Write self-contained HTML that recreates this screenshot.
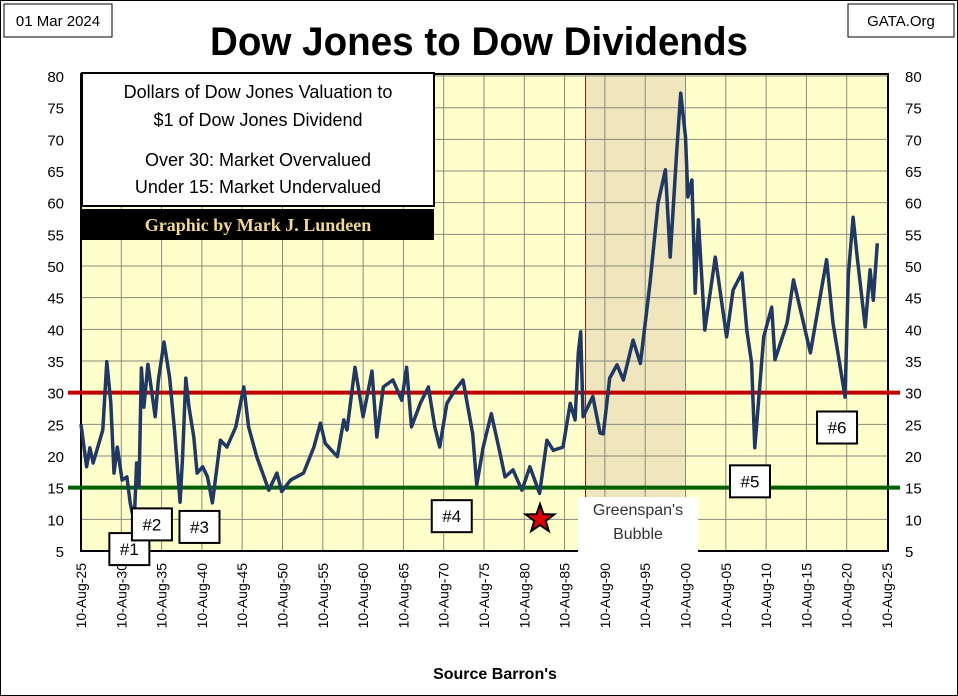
<!DOCTYPE html>
<html><head><meta charset="utf-8">
<style>
body{margin:0;background:#fff;}
svg{display:block;font-family:"Liberation Sans",sans-serif;}
</style></head>
<body>
<svg id="chart" width="958" height="696" viewBox="0 0 958 696">
<rect x="0.5" y="0.5" width="957" height="695" fill="#fff" stroke="#000"/>
<g id="plot"></g>
<text x="479" y="55" text-anchor="middle" font-size="40" font-weight="bold" textLength="538" lengthAdjust="spacingAndGlyphs">Dow Jones to Dow Dividends</text>
<g><rect x="4" y="4" width="108" height="33" fill="#fff" stroke="#000"/><text x="58" y="26" text-anchor="middle" font-size="15">01 Mar 2024</text></g>
<g><rect x="848" y="4" width="106" height="33" fill="#fff" stroke="#000"/><text x="901" y="26" text-anchor="middle" font-size="15">GATA.Org</text></g>
<text x="495" y="679" text-anchor="middle" font-size="16" font-weight="bold">Source Barron's</text>
</svg>
<script>
const years=[1925.6,1926.3,1926.7,1927.1,1928.3,1928.8,1929.3,1929.7,1930.1,1930.7,1931.3,1931.7,1932.2,1932.5,1932.8,1933.1,1933.4,1933.9,1934.8,1935.2,1935.9,1936.6,1937.2,1937.9,1938.2,1938.6,1939.0,1939.6,1940.0,1940.7,1941.3,1941.9,1942.9,1943.7,1944.8,1945.8,1946.4,1947.4,1948.9,1949.9,1950.5,1951.6,1953.2,1954.5,1955.3,1955.9,1957.4,1958.2,1958.6,1959.6,1960.6,1961.7,1962.3,1963.1,1964.3,1965.4,1966.0,1966.6,1967.7,1968.7,1969.5,1970.1,1971.0,1972.0,1973.0,1973.6,1974.2,1974.7,1975.5,1976.5,1977.6,1978.2,1979.2,1980.3,1981.3,1982.5,1983.4,1984.2,1985.4,1986.3,1986.9,1987.3,1987.6,1987.9,1989.1,1990.0,1990.4,1991.2,1992.1,1992.9,1994.1,1995.0,1996.2,1997.2,1998.1,1998.7,1999.5,2000.0,2000.6,2000.9,2001.4,2001.8,2002.2,2003.0,2004.3,2005.7,2006.5,2007.6,2008.2,2008.8,2009.2,2010.3,2011.3,2011.7,2013.2,2014.0,2016.1,2018.1,2018.9,2020.4,2020.8,2021.4,2021.9,2022.9,2023.5,2023.9,2024.4];
const ratios=[25,18.3,21.3,18.9,24.1,34.9,28.4,17.3,21.4,16.2,16.7,12.6,9.6,18.9,15.1,33.9,27.7,34.5,26.2,32,38,32.3,24.1,12.7,19.9,32.3,27.7,23,17.3,18.3,16.7,12.6,22.5,21.4,24.6,30.9,24.6,19.9,14.6,17.3,14.4,16.2,17.3,21.4,25.2,22,19.9,25.7,24.1,34,26.2,33.4,23,30.9,32,28.8,34,24.6,28.3,30.9,24.6,21.4,28.3,30.4,32,27.7,23.5,15.4,21.4,26.7,20.4,16.7,17.8,14.6,18.3,14.1,22.5,20.9,21.4,28.3,25.7,36.3,39.6,26.2,29.4,23.6,23.5,32.3,34.4,32,38.3,34.6,47.3,60,65.2,51.4,67.8,77.3,70.4,60.9,63.6,45.7,57.3,39.9,51.4,38.8,46.2,48.9,39.9,34.7,21.3,38.8,43.5,35.2,41,47.8,36.3,51,41,29.3,48.5,57.7,51.4,40.4,49.4,44.6,53.6];
const yTicks=[5,10,15,20,25,30,35,40,45,50,55,60,65,70,75,80];
const xTickYears=[1925,1930,1935,1940,1945,1950,1955,1960,1965,1970,1975,1980,1985,1990,1995,2000,2005,2010,2015,2020,2025];
const overvalued=30, undervalued=15;
const bubbleStart=1988.2, bubbleEnd=2000.6;
const notes=[{t:"#1",yr:1931.6,v:5.3},{t:"#2",yr:1934.4,v:9.2},{t:"#3",yr:1940.3,v:8.8},{t:"#4",yr:1971.6,v:10.5},{t:"#5",yr:2008.6,v:16},{t:"#6",yr:2019.4,v:24.5}];

const X=y=>81+(y-1925.6)*8.06;
const Y=v=>551-(v-5)*6.333;
const NS="http://www.w3.org/2000/svg";
const g=document.getElementById('plot');
function mk(tag,at,parent){const e=document.createElementNS(NS,tag);for(const k in at)e.setAttribute(k,at[k]);(parent||g).appendChild(e);return e;}

let e=mk('rect',{x:81,y:74,width:807,height:477,fill:'#FFFFCC'});


e=mk('rect',{x:X(bubbleStart),y:74,width:X(bubbleEnd)-X(bubbleStart),height:477,fill:'#EFE6BE',stroke:'#7a1a1a','stroke-width':1});


yTicks.forEach(v=>{
  let l=mk('line',{x1:81,x2:888,y1:Y(v),y2:Y(v),stroke:'#8a8a7a','stroke-width':1});
  
  
  let t=mk('text',{x:64,y:Y(v)+6,'text-anchor':'end','font-size':15});t.textContent=v;
  
  
  let t2=mk('text',{x:905,y:Y(v)+6,'font-size':15});t2.textContent=v;
  
  
});
xTickYears.forEach(yr=>{
  const x=X(yr+0.6);
  if(yr>1925&&yr<2025){let l=mk('line',{x1:x,x2:x,y1:74,y2:551,stroke:'#8a8a7a','stroke-width':1});
  
  }
  let t=mk('text',{x:0,y:0,'text-anchor':'end','font-size':14,transform:`translate(${x+5},563) rotate(-90)`});
  t.textContent='10-Aug-'+String(yr%100).padStart(2,'0');
  
  
});
e=mk('rect',{x:81,y:74,width:807,height:477,fill:'none',stroke:'#000','stroke-width':2});


e=mk('line',{x1:68,x2:900,y1:Y(overvalued),y2:Y(overvalued),stroke:'#C00000','stroke-width':4});


e=mk('line',{x1:68,x2:900,y1:Y(undervalued),y2:Y(undervalued),stroke:'#006000','stroke-width':4});


let d=years.map((yr,i)=>(i?'L':'M')+X(yr).toFixed(1)+' '+Y(ratios[i]).toFixed(1)).join(' ');
e=mk('path',{d:d,fill:'none',stroke:'#1F3864','stroke-width':3.5,'stroke-linejoin':'round'});



let gb=mk('g',{});


mk('rect',{x:578,y:497,width:120,height:57,fill:'#fff'},gb);
let t=mk('text',{x:638,y:515,'text-anchor':'middle','font-size':16,fill:'#333'},gb);t.textContent="Greenspan's";
t=mk('text',{x:638,y:539,'text-anchor':'middle','font-size':16,fill:'#333'},gb);t.textContent="Bubble";

notes.forEach(n=>{
  let ng=mk('g',{});
  
  
  const cx=X(n.yr),cy=Y(n.v);
  mk('rect',{x:cx-20,y:cy-16,width:40,height:32,fill:'#fff',stroke:'#000','stroke-width':2},ng);
  let tt=mk('text',{x:cx,y:cy+6,'text-anchor':'middle','font-size':17},ng);tt.textContent=n.t;
});
const sx=540,sy=519,pts=[];
for(let i=0;i<10;i++){const r=i%2?6:15,a=-Math.PI/2+i*Math.PI/5;pts.push((sx+r*Math.cos(a)).toFixed(1)+','+(sy+r*Math.sin(a)).toFixed(1));}
e=mk('polygon',{points:pts.join(' '),fill:'#E00000',stroke:'#000','stroke-width':2});



let ib=mk('g',{});


mk('rect',{x:82,y:73,width:352,height:133,fill:'#fff',stroke:'#000','stroke-width':2},ib);
[["Dollars of Dow Jones Valuation to",98],["$1 of Dow Jones Dividend",126],["Over 30: Market Overvalued",166],["Under 15: Market Undervalued",193]].forEach(a=>{
  let tx=mk('text',{x:258,y:a[1],'text-anchor':'middle','font-size':18},ib);tx.textContent=a[0];
});
mk('rect',{x:82,y:209,width:352,height:31,fill:'#000'},ib);
let cr=mk('text',{x:258,y:231,'text-anchor':'middle','font-size':18,'font-weight':'bold','font-family':'"Liberation Serif",serif',fill:'#F0D890'},ib);
cr.textContent="Graphic by Mark J. Lundeen";
</script>
</body></html>
